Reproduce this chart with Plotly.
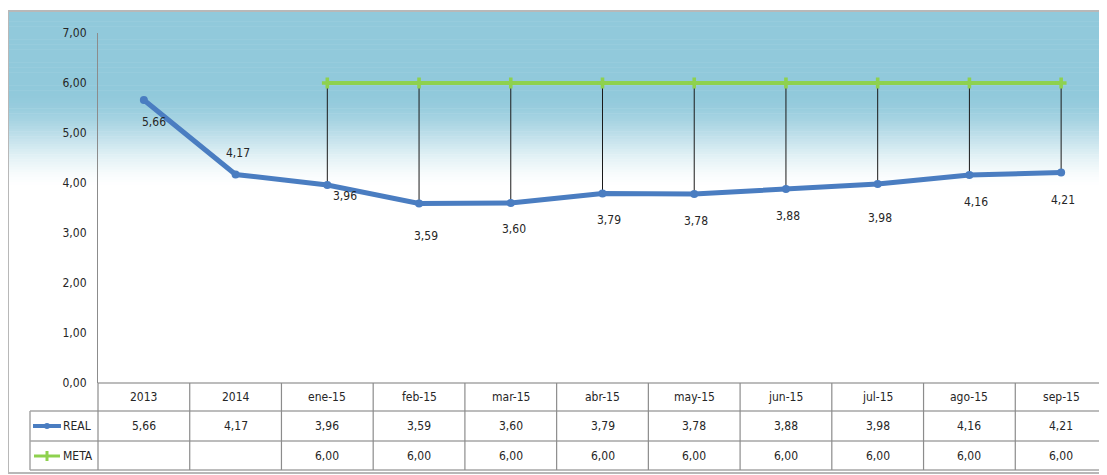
import plotly.graph_objects as go

# ---------------- data ----------------
categories = ["2013", "2014", "ene-15", "feb-15", "mar-15", "abr-15",
              "may-15", "jun-15", "jul-15", "ago-15", "sep-15"]
real_values = [5.66, 4.17, 3.96, 3.59, 3.60, 3.79, 3.78, 3.88, 3.98, 4.16, 4.21]
meta_values = [None, None, 6.00, 6.00, 6.00, 6.00, 6.00, 6.00, 6.00, 6.00, 6.00]
series_names = ["REAL", "META"]
y_ticks = [0, 1, 2, 3, 4, 5, 6, 7]

# ---------------- styling ----------------
OFF = 8                      # page body margin offset of the html page
W, H = 1107 - OFF, 475 - OFF
# target screen-pixel geometry of the plot area
SCR_L, SCR_R, SCR_T, SCR_B = 98, 1107, 33, 383
ML, MR, MT, MB = SCR_L - OFF, 0, SCR_T - OFF, (H + OFF) - SCR_B
FONT = "DejaVu Sans Condensed"
BLUE = "#4a7dc1"
GREEN = "#8ed14f"
TXT = "#262626"
GRID = "#a6a6a6"

# per-label offsets (pixels) for the data labels
label_dx = [10, 2, 18, 7, 3, 6, 2, 2, 2, 7, 2]
label_dy = [-22, 22, -11, -32, -26, -26, -27, -27, -34, -27, -27]

n = len(categories)
xs = list(range(n))
plot_h = SCR_B - SCR_T
plot_w = SCR_R - SCR_L


def py2paper(py):
    return (SCR_B - py) / plot_h


def px2paper(px):
    return (px - SCR_L) / plot_w


def fmt(v):
    return f"{v:.2f}".replace(".", ",")


fig = go.Figure()

# drop lines between META and REAL
dx, dy = [], []
for i in xs:
    if meta_values[i] is not None and real_values[i] is not None:
        dx += [i, i, None]
        dy += [meta_values[i], real_values[i], None]
fig.add_trace(go.Scatter(x=dx, y=dy, mode="lines",
                         line=dict(color="#1a1a1a", width=1),
                         hoverinfo="skip", showlegend=False))

fig.add_trace(go.Scatter(x=xs, y=meta_values, mode="lines+markers", name=series_names[1],
                         line=dict(color=GREEN, width=4),
                         marker=dict(symbol="cross", size=9, color=GREEN),
                         connectgaps=False, showlegend=False))

fig.add_trace(go.Scatter(x=xs, y=real_values, mode="lines+markers", name=series_names[0],
                         line=dict(color=BLUE, width=5),
                         marker=dict(symbol="circle", size=8, color=BLUE),
                         showlegend=False))

shapes = []
# background gradient (teal to white)
top_py, solid_end, fade_end = 11, 92, 190
c0 = (145, 201, 219)
steps = 70
for k in range(steps):
    y0p = top_py + (fade_end - top_py) * k / steps
    y1p = top_py + (fade_end - top_py) * (k + 1) / steps
    mid = (y0p + y1p) / 2
    if mid <= solid_end:
        t = 0.0
    else:
        t = (mid - solid_end) / (fade_end - solid_end)
        t = t * t * (3 - 2 * t)
    col = tuple(round(c * (1 - t) + 255 * t) for c in c0)
    shapes.append(dict(type="rect", xref="paper", yref="paper",
                       x0=px2paper(8), x1=1.0, y0=py2paper(y1p + 0.5), y1=py2paper(y0p),
                       fillcolor=f"rgb{col}", line=dict(width=0), layer="below"))

# outer frame
frame_col = "#b8b8b8"
shapes.append(dict(type="line", xref="paper", yref="paper", x0=px2paper(8), x1=1.0,
                   y0=py2paper(11), y1=py2paper(11), line=dict(color=frame_col, width=2)))
shapes.append(dict(type="line", xref="paper", yref="paper", x0=px2paper(8), x1=px2paper(8),
                   y0=py2paper(11), y1=py2paper(473), line=dict(color=frame_col, width=2)))
shapes.append(dict(type="line", xref="paper", yref="paper", x0=px2paper(8), x1=1.0,
                   y0=py2paper(473), y1=py2paper(473), line=dict(color=frame_col, width=2)))

# data table grid
row_lines = [383, 411, 441, 470]
for j, py in enumerate(row_lines):
    x0 = 0.0 if j == 0 else px2paper(30)
    shapes.append(dict(type="line", xref="paper", yref="paper", x0=x0, x1=1.0,
                       y0=py2paper(py), y1=py2paper(py), line=dict(color=GRID, width=1.5)))
shapes.append(dict(type="line", xref="paper", yref="paper", x0=px2paper(30), x1=px2paper(30),
                   y0=py2paper(411), y1=py2paper(470), line=dict(color=GRID, width=1.5)))
for i in range(n):
    xp = i / n
    shapes.append(dict(type="line", xref="paper", yref="paper", x0=xp, x1=xp,
                       y0=py2paper(383), y1=py2paper(470), line=dict(color="#8c8c8c", width=1.2)))

# legend keys inside the table
shapes.append(dict(type="line", xref="paper", yref="paper", x0=px2paper(33), x1=px2paper(61),
                   y0=py2paper(426), y1=py2paper(426), line=dict(color=BLUE, width=4)))
shapes.append(dict(type="circle", xref="paper", yref="paper", x0=px2paper(44), x1=px2paper(50),
                   y0=py2paper(429), y1=py2paper(423), fillcolor=BLUE, line=dict(width=0)))
shapes.append(dict(type="line", xref="paper", yref="paper", x0=px2paper(34), x1=px2paper(60),
                   y0=py2paper(456), y1=py2paper(456), line=dict(color=GREEN, width=3)))
shapes.append(dict(type="line", xref="paper", yref="paper", x0=px2paper(47), x1=px2paper(47),
                   y0=py2paper(461), y1=py2paper(451), line=dict(color=GREEN, width=3)))

annotations = []
# data labels
for i, v in enumerate(real_values):
    annotations.append(dict(x=i, y=v, xref="x", yref="y", text=fmt(v), showarrow=False,
                            xshift=label_dx[i], yshift=label_dy[i],
                            xanchor="center", yanchor="middle",
                            font=dict(family=FONT, size=12, color=TXT)))

# table texts
row_centers = {"cat": 397, "real": 426, "meta": 455.5}
tbl_font = dict(family=FONT, size=12, color=TXT)
for i, c in enumerate(categories):
    annotations.append(dict(x=i, y=py2paper(row_centers["cat"]), xref="x", yref="paper",
                            text=c, showarrow=False, xanchor="center", yanchor="middle",
                            font=tbl_font))
    annotations.append(dict(x=i, y=py2paper(row_centers["real"]), xref="x", yref="paper",
                            text=fmt(real_values[i]), showarrow=False,
                            xanchor="center", yanchor="middle", font=tbl_font))
    if meta_values[i] is not None:
        annotations.append(dict(x=i, y=py2paper(row_centers["meta"]), xref="x", yref="paper",
                                text=fmt(meta_values[i]), showarrow=False,
                                xanchor="center", yanchor="middle", font=tbl_font))
for name, key in zip(series_names, ["real", "meta"]):
    annotations.append(dict(x=px2paper(61), y=py2paper(row_centers[key]), xref="paper", yref="paper",
                            text=name, showarrow=False, xanchor="left", yanchor="middle",
                            font=tbl_font))

fig.update_layout(
    width=W, height=H,
    margin=dict(l=ML, r=MR, t=MT, b=MB, pad=0),
    paper_bgcolor="white", plot_bgcolor="rgba(0,0,0,0)",
    separators=",.",
    shapes=shapes, annotations=annotations,
    showlegend=False,
    xaxis=dict(range=[-0.5, n - 0.5], showticklabels=False, showgrid=False,
               zeroline=False, showline=False, ticks="", fixedrange=True),
    yaxis=dict(range=[0, 7], tickvals=y_ticks, tickformat=".2f", showgrid=False,
               zeroline=False, showline=True, linecolor="#8c8c8c", linewidth=1.2,
               ticks="", ticklabelstandoff=8,
               tickfont=dict(family=FONT, size=12, color=TXT), fixedrange=True),
)

fig.write_html("out.html")
